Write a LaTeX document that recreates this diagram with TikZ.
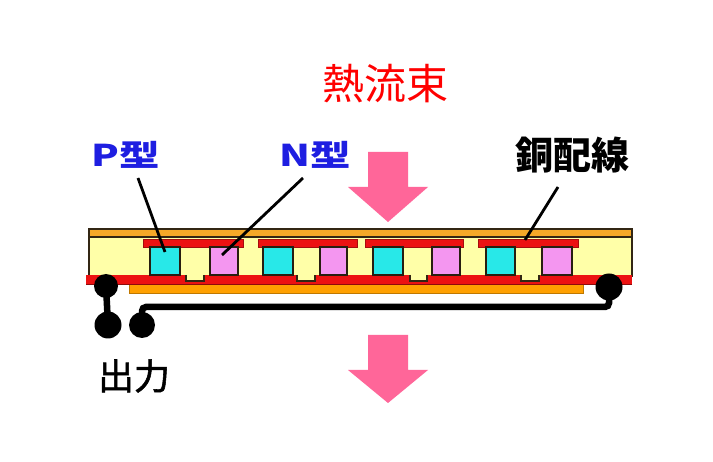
\documentclass[tikz,border=0pt]{standalone}
\usepackage{fontspec}
\newfontfamily\jpfont{Noto Sans CJK JP}
\newfontfamily\jpmedium[FakeBold=1.5]{Noto Sans CJK JP}
\definecolor{bodyyellow}{RGB}{255,255,168}
\definecolor{plate}{RGB}{245,168,40}
\definecolor{basestrip}{RGB}{255,160,0}
\definecolor{copper}{RGB}{236,18,18}
\definecolor{ptype}{RGB}{40,232,232}
\definecolor{ntype}{RGB}{244,150,240}
\definecolor{heat}{RGB}{255,102,153}
\definecolor{labelblue}{RGB}{30,30,225}
\definecolor{edge}{RGB}{50,38,20}
\begin{document}
\begin{tikzpicture}[x=1pt,y=-1pt,
  body/.style={fill=bodyyellow,draw=edge,line width=1.8pt},
  plate/.style={fill=plate,draw=edge,line width=1.5pt},
  copperband/.style={fill=copper,draw=copper!70!black,line width=0.8pt},
  leg/.style={draw=edge!80!black,line width=1.8pt},
  pleg/.style={leg,fill=ptype},
  nleg/.style={leg,fill=ntype},
  dot/.style={circle,fill=black,inner sep=0pt,minimum size=#1},
  wire/.style={line width=6.5pt,black,rounded corners=4pt},
  leader/.style={line width=2.8pt,black},
  heatarrow/.style={fill=heat},
  lbl/.style={inner sep=0pt}]
\useasboundingbox (0,0) rectangle (713,462);
\fill[white] (0,0) rectangle (713,462);

% module body and top plate
\draw[body] (89,229) rectangle (632,276);
\draw[plate] (89,229) rectangle (632,237);

% lower substrate strip and bottom copper band
\draw[fill=basestrip,draw=basestrip!75!black,line width=0.8pt] (129,283) rectangle (583,293);
\fill[copper] (86,275) rectangle (632,284);
\draw[copper!60!black,line width=0.8pt] (86,284) -- (632,284);

% gaps between bottom electrodes
\foreach \a/\b in {186/204, 297/315, 410/427, 521/539}{
  \fill[bodyyellow] (\a,274) rectangle (\b,281);
  \draw[edge,line width=1.5pt] (\a,275) |- (\b,281) -- (\b,275);
}

% top electrodes
\foreach \a/\b in {143/243, 258/357, 365/463, 478/578}{
  \draw[copperband] (\a,239) rectangle (\b,247);
}

% thermoelectric legs
\foreach \a/\b in {150/180, 263/293, 373/403, 486/515}{
  \draw[pleg] (\a,247) rectangle (\b,275);
}
\foreach \a/\b in {210/238, 320/347, 432/460, 542/572}{
  \draw[nleg] (\a,247) rectangle (\b,275);
}

% terminals and output wiring
\node[dot=24pt] (tl) at (106,286) {};
\node[dot=27pt] (tr) at (609,287) {};
\node[dot=27pt] (ol) at (108,325) {};
\node[dot=26pt] (or) at (142,325) {};
\coordinate (bend) at (609,307);
\draw[wire] (tl.center) -- (ol.center);
\draw[wire] (or.center) |- (bend) -- (tr.center);

% heat flow arrows
\fill[heatarrow] (368,152) -- (408,152) -- (408,187) -- (428,187) -- (388,222)
  -- (348,187) -- (368,187) -- cycle;
\fill[heatarrow] (368,335) -- (408,335) -- (408,370) -- (428,370) -- (388,403)
  -- (348,370) -- (368,370) -- cycle;

% labels
\node[lbl,text=red,font=\jpfont\fontsize{42}{50}\selectfont] (heatlbl) at (385,84) {熱流束};
\node[lbl,text=labelblue,font=\jpfont\bfseries\fontsize{30}{36}\selectfont] (plbl) at (126,155) {\scalebox{1.35}[1]{P型}};
\node[lbl,text=labelblue,font=\jpfont\bfseries\fontsize{30}{36}\selectfont] (nlbl) at (315,155) {\scalebox{1.35}[1]{N型}};
\node[lbl,text=black,font=\jpfont\bfseries\fontsize{38}{44}\selectfont] (culbl) at (572,155) {銅配線};
\node[lbl,text=black,font=\jpmedium\fontsize{36}{42}\selectfont] (outlbl) at (134,376) {出力};

% leader lines
\coordinate (pfrom) at (138,178); \coordinate (pto) at (165,252);
\coordinate (nfrom) at (303,178); \coordinate (nto) at (222,255);
\coordinate (cfrom) at (558,187); \coordinate (cto) at (525,240);
\draw[leader] (pfrom) -- (pto);
\draw[leader] (nfrom) -- (nto);
\draw[leader] (cfrom) -- (cto);
\end{tikzpicture}
\end{document}
